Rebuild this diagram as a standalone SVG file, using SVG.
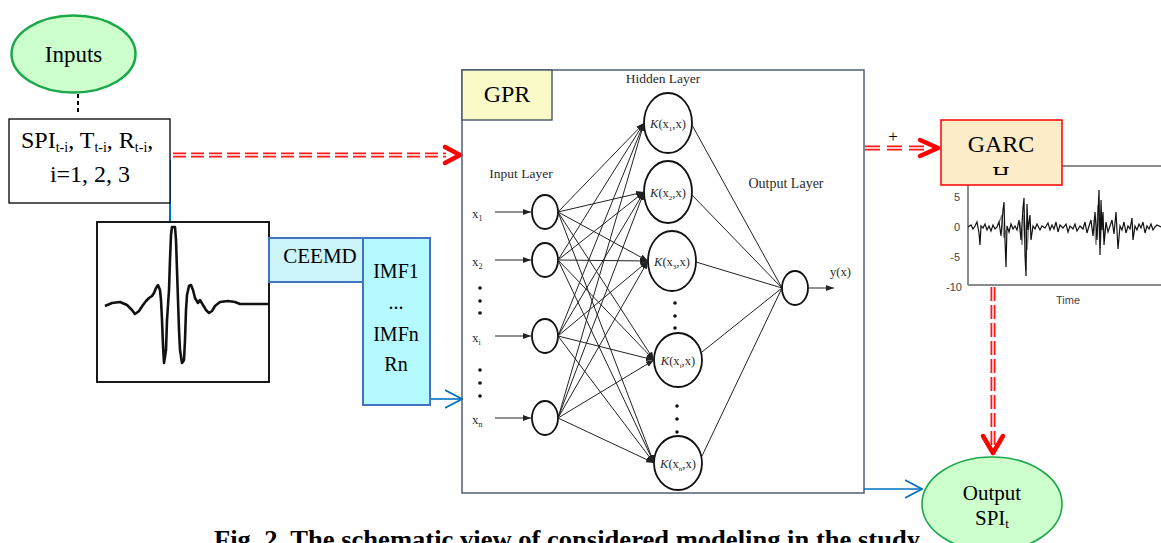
<svg xmlns="http://www.w3.org/2000/svg" width="1161" height="543" viewBox="0 0 1161 543">
<style>
.serif{font-family:"Liberation Serif","Times New Roman",serif;fill:#000}
.net{font-family:"Liberation Serif","Times New Roman",serif;fill:#2a2a2a}
.ax{font-family:"Liberation Sans",Arial,sans-serif;fill:#444;font-size:11px}
.edge{stroke:#222;stroke-width:1;fill:none}
.neu{fill:#fff;stroke:#111;stroke-width:1.8}
.dblr{stroke:#ff1a1a;stroke-width:5;fill:none}
.dblw{stroke:#fff;stroke-width:1.4;fill:none}
.rhead{stroke:#ff0000;stroke-width:4.5;fill:none;stroke-linecap:round;stroke-linejoin:round}
.blue{stroke:#0070c0;stroke-width:1.6;fill:none}
.dot{fill:#111}
.shadow{fill:none;stroke:#888;stroke-width:1.4}
</style>
<defs>
<marker id="ah" viewBox="0 0 8 6" refX="8" refY="3" markerWidth="8" markerHeight="6" markerUnits="userSpaceOnUse" orient="auto"><path d="M0,0 L8,3 L0,6z" fill="#222"/></marker>
<marker id="bo" viewBox="0 0 18 20" refX="17" refY="10" markerWidth="18" markerHeight="20" markerUnits="userSpaceOnUse" orient="auto"><path d="M0,1 L17,10 L0,19" fill="none" stroke="#0070c0" stroke-width="1.6"/></marker>
<clipPath id="hclip"><rect x="941" y="120" width="121" height="55"/></clipPath>
</defs>
<rect width="1161" height="543" fill="#fff"/>

<text class="serif" x="214" y="548" font-size="26" font-weight="bold" textLength="706" lengthAdjust="spacingAndGlyphs">Fig. 2. The schematic view of considered modeling in the study</text>

<g id="gpr">
<rect x="462" y="70" width="402" height="423" fill="#fff" stroke="#44546a" stroke-width="1.4"/>
<rect x="462" y="70" width="90" height="50" fill="#fafac8" stroke="#44546a" stroke-width="1.4"/>
<text class="serif" x="507" y="102" font-size="24" text-anchor="middle">GPR</text>
<text class="net" x="663" y="83" font-size="13.5" text-anchor="middle">Hidden Layer</text>
<text class="net" x="521" y="178" font-size="13.5" text-anchor="middle">Input Layer</text>
<text class="net" x="786" y="188" font-size="14" text-anchor="middle">Output Layer</text>
<g id="input-neurons">
<ellipse class="neu" cx="545" cy="212" rx="13" ry="17"/>
<ellipse class="neu" cx="545" cy="260" rx="13" ry="17"/>
<ellipse class="neu" cx="545" cy="336" rx="13" ry="17"/>
<ellipse class="neu" cx="545" cy="418" rx="13" ry="17"/>
<text class="net" x="472" y="218" font-size="13">x<tspan font-size="8" dy="3">1</tspan></text>
<text class="net" x="472" y="266" font-size="13">x<tspan font-size="8" dy="3">2</tspan></text>
<text class="net" x="472" y="342" font-size="13">x<tspan font-size="8" dy="3">i</tspan></text>
<text class="net" x="472" y="424" font-size="13">x<tspan font-size="8" dy="3">n</tspan></text>
<circle class="dot" cx="480" cy="288" r="1.8"/><circle class="dot" cx="480" cy="301" r="1.8"/><circle class="dot" cx="480" cy="313" r="1.8"/>
<circle class="dot" cx="480" cy="370" r="1.8"/><circle class="dot" cx="480" cy="383" r="1.8"/><circle class="dot" cx="480" cy="396" r="1.8"/>
</g>
<g id="hidden-neurons">
<ellipse class="neu" cx="668" cy="123" rx="24" ry="30" stroke-width="2"/>
<ellipse class="neu" cx="668" cy="192" rx="24" ry="31" stroke-width="2"/>
<ellipse class="neu" cx="672" cy="261" rx="24" ry="30" stroke-width="2"/>
<ellipse class="neu" cx="678" cy="360" rx="24" ry="27" stroke-width="2"/>
<ellipse class="neu" cx="678" cy="463" rx="24" ry="27" stroke-width="2"/>
<text class="net" x="668" y="128" font-size="12.5" text-anchor="middle"><tspan font-style="italic">K</tspan>(x<tspan font-size="7" dy="3">1</tspan><tspan dy="-3">,x)</tspan></text>
<text class="net" x="668" y="197" font-size="12.5" text-anchor="middle"><tspan font-style="italic">K</tspan>(x<tspan font-size="7" dy="3">2</tspan><tspan dy="-3">,x)</tspan></text>
<text class="net" x="672" y="266" font-size="12.5" text-anchor="middle"><tspan font-style="italic">K</tspan>(x<tspan font-size="7" dy="3">3</tspan><tspan dy="-3">,x)</tspan></text>
<text class="net" x="678" y="365" font-size="12.5" text-anchor="middle"><tspan font-style="italic">K</tspan>(x<tspan font-size="7" dy="3">i</tspan><tspan dy="-3">,x)</tspan></text>
<text class="net" x="678" y="468" font-size="12.5" text-anchor="middle"><tspan font-style="italic">K</tspan>(x<tspan font-size="7" dy="3">n</tspan><tspan dy="-3">,x)</tspan></text>
<circle class="dot" cx="675" cy="303" r="1.8"/><circle class="dot" cx="675" cy="316" r="1.8"/><circle class="dot" cx="675" cy="328" r="1.8"/>
<circle class="dot" cx="677" cy="406" r="1.8"/><circle class="dot" cx="677" cy="419" r="1.8"/><circle class="dot" cx="677" cy="432" r="1.8"/>
</g>
<g id="output-neuron">
<ellipse class="neu" cx="795" cy="288" rx="13" ry="17"/>
<text class="net" x="830" y="276" font-size="12.5">y(x)</text>
</g>
</g>

<g id="connectors">
<g id="network-edges">
<line class="edge" x1="495" y1="212" x2="531" y2="212" marker-end="url(#ah)" stroke-width="1.5"/>
<line class="edge" x1="495" y1="260" x2="531" y2="260" marker-end="url(#ah)" stroke-width="1.5"/>
<line class="edge" x1="495" y1="336" x2="531" y2="336" marker-end="url(#ah)" stroke-width="1.5"/>
<line class="edge" x1="495" y1="418" x2="531" y2="418" marker-end="url(#ah)" stroke-width="1.5"/>
<g marker-end="url(#ah)">
<line class="edge" x1="558" y1="212" x2="644" y2="123"/>
<line class="edge" x1="558" y1="212" x2="644" y2="192"/>
<line class="edge" x1="558" y1="212" x2="648" y2="261"/>
<line class="edge" x1="558" y1="212" x2="654" y2="360"/>
<line class="edge" x1="558" y1="212" x2="654" y2="463"/>
<line class="edge" x1="558" y1="260" x2="644" y2="123"/>
<line class="edge" x1="558" y1="260" x2="644" y2="192"/>
<line class="edge" x1="558" y1="260" x2="648" y2="261"/>
<line class="edge" x1="558" y1="260" x2="654" y2="360"/>
<line class="edge" x1="558" y1="260" x2="654" y2="463"/>
<line class="edge" x1="558" y1="336" x2="644" y2="123"/>
<line class="edge" x1="558" y1="336" x2="644" y2="192"/>
<line class="edge" x1="558" y1="336" x2="648" y2="261"/>
<line class="edge" x1="558" y1="336" x2="654" y2="360"/>
<line class="edge" x1="558" y1="336" x2="654" y2="463"/>
<line class="edge" x1="558" y1="418" x2="644" y2="123"/>
<line class="edge" x1="558" y1="418" x2="644" y2="192"/>
<line class="edge" x1="558" y1="418" x2="648" y2="261"/>
<line class="edge" x1="558" y1="418" x2="654" y2="360"/>
<line class="edge" x1="558" y1="418" x2="654" y2="463"/>
</g>
<line class="edge" x1="692" y1="125" x2="782" y2="288"/>
<line class="edge" x1="692" y1="195" x2="782" y2="288"/>
<line class="edge" x1="696" y1="262" x2="782" y2="288"/>
<line class="edge" x1="702" y1="352" x2="782" y2="288"/>
<line class="edge" x1="702" y1="456" x2="782" y2="288"/>
<line class="edge" x1="808" y1="288" x2="834" y2="288" marker-end="url(#ah)" stroke-width="1.6"/>
</g>
<line x1="78" y1="94" x2="78" y2="113" stroke="#000" stroke-width="2" stroke-dasharray="4,3"/>
<line x1="170" y1="160" x2="170" y2="222" stroke="#0070c0" stroke-width="2"/>
<line class="blue" x1="430" y1="399" x2="462" y2="399" marker-end="url(#bo)"/>
<line class="blue" x1="864" y1="489" x2="922" y2="489" marker-end="url(#bo)"/>
<g id="red-inputs-gpr">
<line class="dblr" x1="173" y1="155" x2="446" y2="155" stroke-dasharray="13,5"/>
<line class="dblw" x1="173" y1="155" x2="446" y2="155" stroke-dasharray="13,5"/>
<polyline class="rhead" points="445,147 460,155 445,163"/>
</g>
<g id="red-gpr-garch">
<line class="dblr" x1="865" y1="148" x2="926" y2="148" stroke-dasharray="15,7"/>
<line class="dblw" x1="865" y1="148" x2="926" y2="148" stroke-dasharray="15,7"/>
<polyline class="rhead" points="920,140 938,148 920,156"/>
<text class="serif" x="893" y="142" font-size="17" text-anchor="middle">+</text>
</g>
<g id="red-garch-output">
<line class="dblr" x1="993" y1="287" x2="993" y2="448" stroke-dasharray="14,4"/>
<line class="dblw" x1="993" y1="287" x2="993" y2="448" stroke-dasharray="14,4"/>
<polyline class="rhead" points="983,436 993,453 1003,436"/>
</g>
</g>

<g id="inputs">
<ellipse cx="73.5" cy="54" rx="62" ry="38.5" fill="#ccffcc" stroke="#1aa84a" stroke-width="2.5"/>
<text class="serif" x="73.5" y="62" font-size="23" text-anchor="middle">Inputs</text>
</g>

<g id="input-vars">
<rect x="9" y="119" width="161" height="84" fill="#fff" stroke="#000" stroke-width="1.3"/>
<text class="serif" x="21" y="148" font-size="24">SPI<tspan font-size="14" dy="4">t-i</tspan><tspan dy="-4">, T</tspan><tspan font-size="14" dy="4">t-i</tspan><tspan dy="-4">, R</tspan><tspan font-size="14" dy="4">t-i</tspan><tspan dy="-4">,</tspan></text>
<text class="serif" x="90" y="182" font-size="24" text-anchor="middle">i=1, 2, 3</text>
</g>

<g id="signal">
<rect x="97" y="222" width="172" height="160" fill="#fff" stroke="#000" stroke-width="1.8"/>
<path d="M105,306 L112,303 L120,302 L127,305 L132,310 L135,314 L139,311 L143,305 L146,301 L149,298 L152,296 L154,293 L156,288 L158,285 L160,290 L161,300 L162,320 L163,345 L164,363 L166,350 L167,320 L169,290 L170,260 L171,235 L172,227 L175,227 L176,240 L177,270 L178,300 L179,330 L180,350 L182,363 L184,360 L185,340 L186,310 L187,295 L189,286 L191,285 L193,290 L195,298 L198,303 L200,300 L203,305 L206,310 L209,313 L212,311 L215,306 L220,302 L228,301 L235,302 L240,304 L250,304 L260,304 L269,304" fill="none" stroke="#111" stroke-width="2.6" stroke-linejoin="round"/>
</g>

<g id="chart">
<line x1="1000" y1="166" x2="1161" y2="166" stroke="#8a8a8a" stroke-width="2"/>
<line x1="968" y1="166" x2="968" y2="285" stroke="#8a8a8a" stroke-width="2"/>
<line x1="968" y1="285" x2="1161" y2="285" stroke="#8a8a8a" stroke-width="2"/>
<text class="ax" x="960" y="201" text-anchor="end">5</text>
<text class="ax" x="960" y="231" text-anchor="end">0</text>
<text class="ax" x="960" y="261" text-anchor="end">-5</text>
<text class="ax" x="962" y="291" text-anchor="end">-10</text>
<text class="ax" x="1068" y="304" text-anchor="middle">Time</text>
<polyline class="shadow" points="998,225 1002,215 1004,238 1006,230"/>
<polyline class="shadow" points="1020,222 1022,245 1024,215 1027,250 1029,222"/>
<polyline class="shadow" points="1094,220 1096,245 1098,205 1100,248 1102,218 1104,238 1106,226"/>
<polyline fill="none" stroke="#111" stroke-width="1.2" points="968,227 971,225 973,229 975,226 977,222 979,233 980,245 981,226 983,228 985,224 987,230 989,226 991,231 993,225 995,229 997,227 999,222 1001,236 1003,210 1004,202 1005,240 1006,267 1007,226 1009,232 1011,224 1013,229 1015,226 1017,230 1019,220 1021,240 1023,208 1024,198 1025,255 1026,276 1027,204 1028,230 1030,215 1031,240 1033,226 1035,229 1037,224 1040,230 1042,226 1045,228 1048,223 1050,230 1052,225 1054,229 1056,222 1058,232 1060,225 1063,228 1066,224 1068,232 1070,226 1073,229 1075,224 1077,231 1080,226 1083,229 1085,222 1087,233 1089,226 1091,220 1093,236 1095,212 1097,240 1099,190 1100,255 1101,200 1102,230 1103,212 1104,245 1106,222 1108,232 1110,226 1112,220 1114,234 1116,212 1118,249 1120,226 1122,230 1124,222 1126,233 1128,226 1130,229 1132,218 1133,240 1135,226 1137,230 1139,224 1141,228 1143,222 1145,233 1147,226 1149,229 1151,224 1153,230 1155,227 1157,225 1161,227"/>
</g>

<g id="ceemd">
<rect x="269" y="238" width="94" height="44" fill="#ccf4f8" stroke="#4472c4" stroke-width="2"/>
<text class="serif" x="320" y="263" font-size="21" text-anchor="middle">CEEMD</text>
</g>

<g id="imf">
<rect x="363" y="238" width="67" height="167" fill="#b4fafe" stroke="#4472c4" stroke-width="2"/>
<text class="serif" x="396" y="278" font-size="20" text-anchor="middle">IMF1</text>
<text class="serif" x="396" y="309" font-size="20" text-anchor="middle">...</text>
<text class="serif" x="396" y="341" font-size="20" text-anchor="middle">IMFn</text>
<text class="serif" x="396" y="371" font-size="20" text-anchor="middle">Rn</text>
</g>

<g id="garch">
<rect x="941" y="120" width="121" height="65" fill="#fcecc7" stroke="#ff0000" stroke-width="1.5"/>
<text class="serif" x="1001" y="152" font-size="24" text-anchor="middle">GARC</text>
<text class="serif" x="1001" y="182" font-size="24" text-anchor="middle" clip-path="url(#hclip)">H</text>
</g>

<g id="output">
<ellipse cx="992" cy="504" rx="70" ry="47" fill="#ccffcc" stroke="#1aa84a" stroke-width="1.6"/>
<text class="serif" x="992" y="500" font-size="21" text-anchor="middle">Output</text>
<text class="serif" x="992" y="525" font-size="21" text-anchor="middle">SPI<tspan font-size="13" dy="3">t</tspan></text>
</g>
</svg>
